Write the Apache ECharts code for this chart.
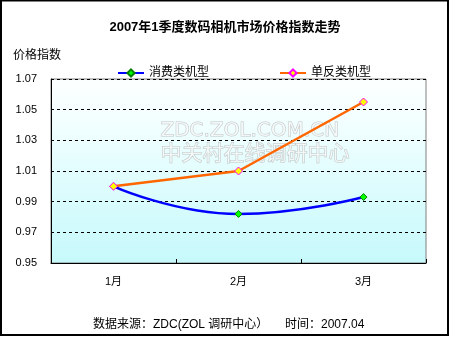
<!DOCTYPE html>
<html>
<head>
<meta charset="utf-8">
<script src="https://cdn.jsdelivr.net/npm/echarts@6/dist/echarts.min.js"></script>
<style>
  html, body { margin: 0; padding: 0; background: #fff; }
  #chart { width: 450px; height: 337px; }
</style>
</head>
<body>
<div id="chart"></div>
<script>
// Months on the category axis
const months = ['1月', '2月', '3月'];
// Price index per segment
const consumerIndex = [1.000, 0.982, 0.993];
const dslrIndex = [1.000, 1.010, 1.055];
// Value axis range and step
const yMin = 0.95;
const yMax = 1.07;
const yStep = 0.02;

const titleText = '2007年1季度数码相机市场价格指数走势';
const yAxisTitle = '价格指数';
const footerText = '数据来源：ZDC(ZOL 调研中心）     时间：2007.04';
const markText1 = 'ZDC.ZOL.COM.CN';
const markText2 = '中关村在线调研中心';

const FONT = 'Arial, "Liberation Sans", "Noto Sans CJK SC", sans-serif';

const chart = echarts.init(document.getElementById('chart'), null, { renderer: 'canvas' });

const legendText = { fontSize: 12, color: '#000', fontFamily: FONT };

chart.setOption({
  backgroundColor: '#ffffff',
  animation: false,
  textStyle: { fontFamily: FONT },
  grid: {
    left: 51, right: 24, top: 79, bottom: 74,
    show: true,
    borderColor: '#808080',
    borderWidth: 1,
    backgroundColor: new echarts.graphic.LinearGradient(0, 0, 0, 1, [
      { offset: 0, color: '#fdffff' },
      { offset: 0.2, color: '#f4ffff' },
      { offset: 1, color: '#c6f9fb' }
    ])
  },
  legend: [
    {
      left: 112, top: 62,
      itemWidth: 26, itemHeight: 9,
      textStyle: legendText,
      data: ['消费类机型']
    },
    {
      left: 274, top: 62,
      itemWidth: 26, itemHeight: 9,
      textStyle: legendText,
      data: ['单反类机型']
    }
  ],
  xAxis: {
    type: 'category',
    data: months,
    boundaryGap: true,
    axisLine: { lineStyle: { color: '#000', width: 1 } },
    axisTick: { show: true, inside: true, length: 4, lineStyle: { color: '#000' } },
    axisLabel: { color: '#000', fontSize: 11, margin: 13 },
    splitLine: { show: false }
  },
  yAxis: {
    type: 'value',
    min: yMin, max: yMax, interval: yStep,
    axisLine: { show: true, lineStyle: { color: '#000', width: 1 } },
    axisTick: { show: false },
    axisLabel: {
      color: '#000', fontSize: 11, margin: 14,
      formatter: v => v.toFixed(2)
    },
    splitLine: { show: true, lineStyle: { color: '#000', type: [3, 3], width: 1 } }
  },
  graphic: [
    {
      type: 'rect', silent: true, z: 100,
      shape: { x: 1, y: 0.5, width: 447, height: 334.5 },
      style: { fill: null, stroke: '#000', lineWidth: 2 }
    },
    {
      type: 'text', left: 'center', top: 21, z: 10,
      style: { text: titleText, font: 'bold 13px ' + FONT, fill: '#000' }
    },
    {
      type: 'text', left: 13, top: 50,
      style: { text: yAxisTitle, font: '12px ' + FONT, fill: '#000' }
    },
    {
      type: 'text', left: 93, top: 319,
      style: { text: footerText, font: '12px ' + FONT, fill: '#000' }
    },
    {
      type: 'text', left: 160, top: 120, z: 1,
      style: { text: markText1, font: '20px "DejaVu Sans", sans-serif', fill: 'rgba(255,255,255,0.7)', stroke: 'rgba(160,160,160,0.6)', lineWidth: 1 }
    },
    {
      type: 'text', left: 160, top: 143, z: 1,
      style: { text: markText2, font: '21px ' + FONT, fill: 'rgba(255,255,255,0.7)', stroke: 'rgba(160,160,160,0.6)', lineWidth: 1 }
    }
  ],
  series: [
    {
      name: '消费类机型',
      type: 'line',
      data: consumerIndex,
      smooth: 0.5,
      symbol: 'diamond',
      symbolSize: 7,
      z: 3,
      lineStyle: { color: '#0000ff', width: 2.5 },
      itemStyle: { color: '#00ff00', borderColor: '#008000', borderWidth: 1 }
    },
    {
      name: '单反类机型',
      type: 'line',
      data: dslrIndex,
      smooth: false,
      symbol: 'diamond',
      symbolSize: 8,
      z: 4,
      lineStyle: { color: '#ff6600', width: 2.5 },
      itemStyle: { color: '#ffff00', borderColor: '#ff00ff', borderWidth: 1 }
    }
  ]
});
</script>
</body>
</html>
